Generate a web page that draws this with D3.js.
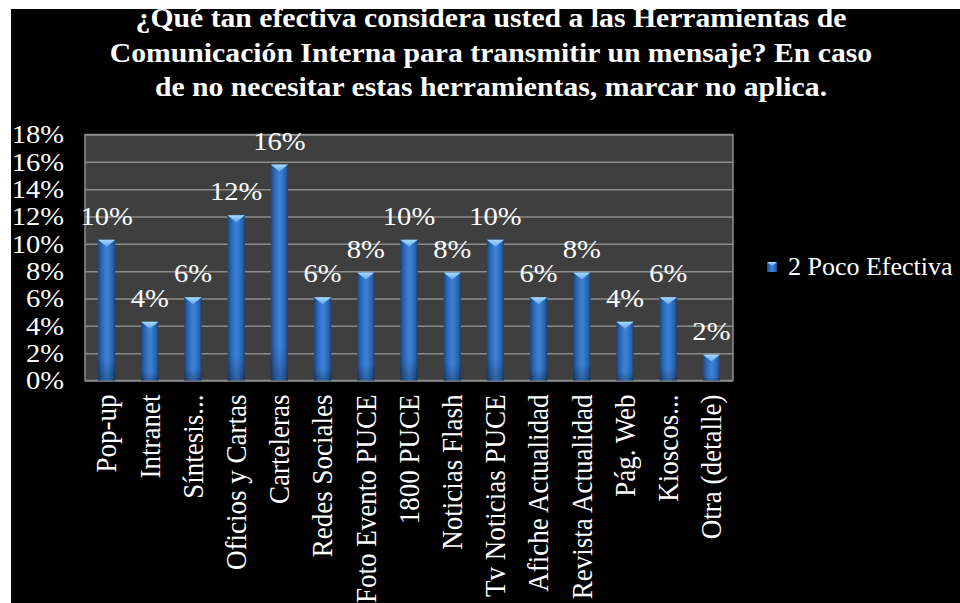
<!DOCTYPE html>
<html>
<head>
<meta charset="utf-8">
<script src="https://cdn.jsdelivr.net/npm/d3@7"></script>
<style>
  html, body { margin: 0; padding: 0; background: #ffffff; }
  svg { display: block; }
</style>
</head>
<body>
<script>
// Chart data
const titleLines = [
  "¿Qué tan efectiva considera usted a las Herramientas de",
  "Comunicación Interna para transmitir un mensaje? En caso",
  "de no necesitar estas herramientas, marcar no aplica."
];
const categories = [
  "Pop-up", "Intranet", "Síntesis...", "Oficios y Cartas", "Carteleras",
  "Redes Sociales", "Foto Evento PUCE", "1800 PUCE", "Noticias Flash",
  "Tv Noticias PUCE", "Afiche Actualidad", "Revista Actualidad",
  "Pág. Web", "Kioscos...", "Otra (detalle)"
];
const values = [
  0.103, 0.043, 0.061, 0.121, 0.158,
  0.061, 0.079, 0.103, 0.079,
  0.103, 0.061, 0.079,
  0.043, 0.061, 0.019
];
const yTicks = [0, 0.02, 0.04, 0.06, 0.08, 0.10, 0.12, 0.14, 0.16, 0.18];
const seriesName = "2 Poco Efectiva";

const FONT = "Liberation Serif";
const SX = 1.1;              // horizontal widening applied to the chart's lettering
const W = 960, H = 603;
const plot = { left: 85, right: 733, top: 134.5, bottom: 380.5 };

const svg = d3.select("body").append("svg")
  .attr("width", W).attr("height", H)
  .attr("font-family", FONT);

// Chart background (white margin strip on top/left, black canvas)
svg.append("rect").attr("x", 0).attr("y", 0).attr("width", W).attr("height", H).attr("fill", "#ffffff");
svg.append("rect").attr("x", 11).attr("y", 9).attr("width", W - 11).attr("height", H - 9).attr("fill", "#000000");

const defs = svg.append("defs");
const barGrad = defs.append("linearGradient").attr("id", "barGrad")
  .attr("x1", "0%").attr("x2", "100%").attr("y1", "0%").attr("y2", "0%");
[["0%", "#1b4577"], ["18%", "#2a62ad"], ["45%", "#3b7fd6"], ["60%", "#3a7dd3"], ["85%", "#2a62ad"], ["100%", "#1a4374"]]
  .forEach(([o, c]) => barGrad.append("stop").attr("offset", o).attr("stop-color", c));
const capGrad = defs.append("linearGradient").attr("id", "capGrad")
  .attr("x1", "0%").attr("x2", "0%").attr("y1", "0%").attr("y2", "100%");
[["0%", "#a8dcff"], ["100%", "#5fa6ea"]]
  .forEach(([o, c]) => capGrad.append("stop").attr("offset", o).attr("stop-color", c));
const shadeGrad = defs.append("linearGradient").attr("id", "shadeGrad")
  .attr("x1", "0%").attr("x2", "0%").attr("y1", "0%").attr("y2", "100%");
[["0%", "#000000", 0], ["85%", "#000000", 0], ["100%", "#000000", 0.25]]
  .forEach(([o, c, a]) => shadeGrad.append("stop").attr("offset", o).attr("stop-color", c).attr("stop-opacity", a));

// Scales
const x = d3.scaleBand().domain(categories).range([plot.left, plot.right]).paddingInner(0.6).paddingOuter(0.3);
const y = d3.scaleLinear().domain([0, 0.18]).range([plot.bottom, plot.top]);

// Plot area
svg.append("rect")
  .attr("x", plot.left).attr("y", plot.top)
  .attr("width", plot.right - plot.left).attr("height", plot.bottom - plot.top)
  .attr("fill", "#3f3f3f");

// Gridlines
svg.append("g")
  .attr("transform", `translate(${plot.left},0)`)
  .call(d3.axisLeft(y).tickValues(yTicks).tickSize(-(plot.right - plot.left)).tickFormat(""))
  .call(g => g.select(".domain").remove())
  .call(g => g.selectAll("line").attr("stroke", "#8c8c8c").attr("stroke-width", 1.5));

// Plot border
svg.append("rect")
  .attr("x", plot.left).attr("y", plot.top)
  .attr("width", plot.right - plot.left).attr("height", plot.bottom - plot.top)
  .attr("fill", "none").attr("stroke", "#8c8c8c").attr("stroke-width", 1.5);

// Y axis labels
svg.append("g")
  .attr("transform", `translate(${plot.left},0)`)
  .call(d3.axisLeft(y).tickValues(yTicks).tickSize(0).tickPadding(19).tickFormat(d3.format(".0%")))
  .call(g => g.attr("font-family", FONT).attr("font-size", 26))
  .call(g => g.select(".domain").remove())
  .call(g => g.selectAll("text").attr("fill", "#ffffff").attr("transform", `scale(${SX},1)`));

// Bars
const bars = svg.append("g").selectAll("g").data(values).join("g");
bars.append("rect")
  .attr("x", (d, i) => x(categories[i]))
  .attr("y", d => y(d))
  .attr("width", x.bandwidth())
  .attr("height", d => y(0) - y(d))
  .attr("fill", "url(#barGrad)");
bars.append("rect")
  .attr("x", (d, i) => x(categories[i]))
  .attr("y", d => y(d))
  .attr("width", x.bandwidth())
  .attr("height", d => y(0) - y(d))
  .attr("fill", "url(#shadeGrad)");
bars.append("path")
  .attr("d", (d, i) => {
    const x0 = x(categories[i]), w = x.bandwidth(), t = y(d);
    return `M${x0},${t}L${x0 + w},${t}L${x0 + w / 2},${t + 7}Z`;
  })
  .attr("fill", "url(#capGrad)");

// Value labels
svg.append("g").selectAll("text").data(values).join("text")
  .attr("transform", (d, i) =>
    `translate(${x(categories[i]) + x.bandwidth() / 2},${y(d) - 15}) scale(${SX},1)`)
  .attr("text-anchor", "middle")
  .attr("font-family", FONT)
  .attr("font-size", 26)
  .attr("fill", "#ffffff")
  .text(d => d3.format(".0%")(d));

// X axis labels (rotated)
svg.append("g")
  .attr("transform", `translate(0,${plot.bottom})`)
  .call(d3.axisBottom(x).tickSize(0).tickPadding(0))
  .call(g => g.attr("font-family", FONT).attr("font-size", 27))
  .call(g => g.select(".domain").remove())
  .call(g => g.selectAll("text")
    .attr("fill", "#ffffff")
    .attr("text-anchor", "end")
    .attr("transform", `translate(0,14) scale(${SX},1) rotate(-90)`)
    .attr("x", 0).attr("y", 0).attr("dy", "0.33em"));

// Title
svg.append("g").selectAll("text").data(titleLines).join("text")
  .attr("transform", (d, i) => `translate(491,${27 + i * 34.5}) scale(${SX},1)`)
  .attr("text-anchor", "middle")
  .attr("font-family", FONT)
  .attr("font-size", 27)
  .attr("font-weight", "bold")
  .attr("fill", "#ffffff")
  .text(d => d);

// Legend
const legend = svg.append("g").attr("transform", "translate(767,262)");
legend.append("rect").attr("width", 10).attr("height", 10).attr("fill", "url(#barGrad)");
legend.append("path").attr("d", "M0,0L10,0L5,4Z").attr("fill", "url(#capGrad)");
legend.append("text")
  .attr("transform", `translate(21,13) scale(1.04,1)`)
  .attr("font-family", FONT).attr("font-size", 25).attr("fill", "#ffffff")
  .text(seriesName);
</script>
</body>
</html>
